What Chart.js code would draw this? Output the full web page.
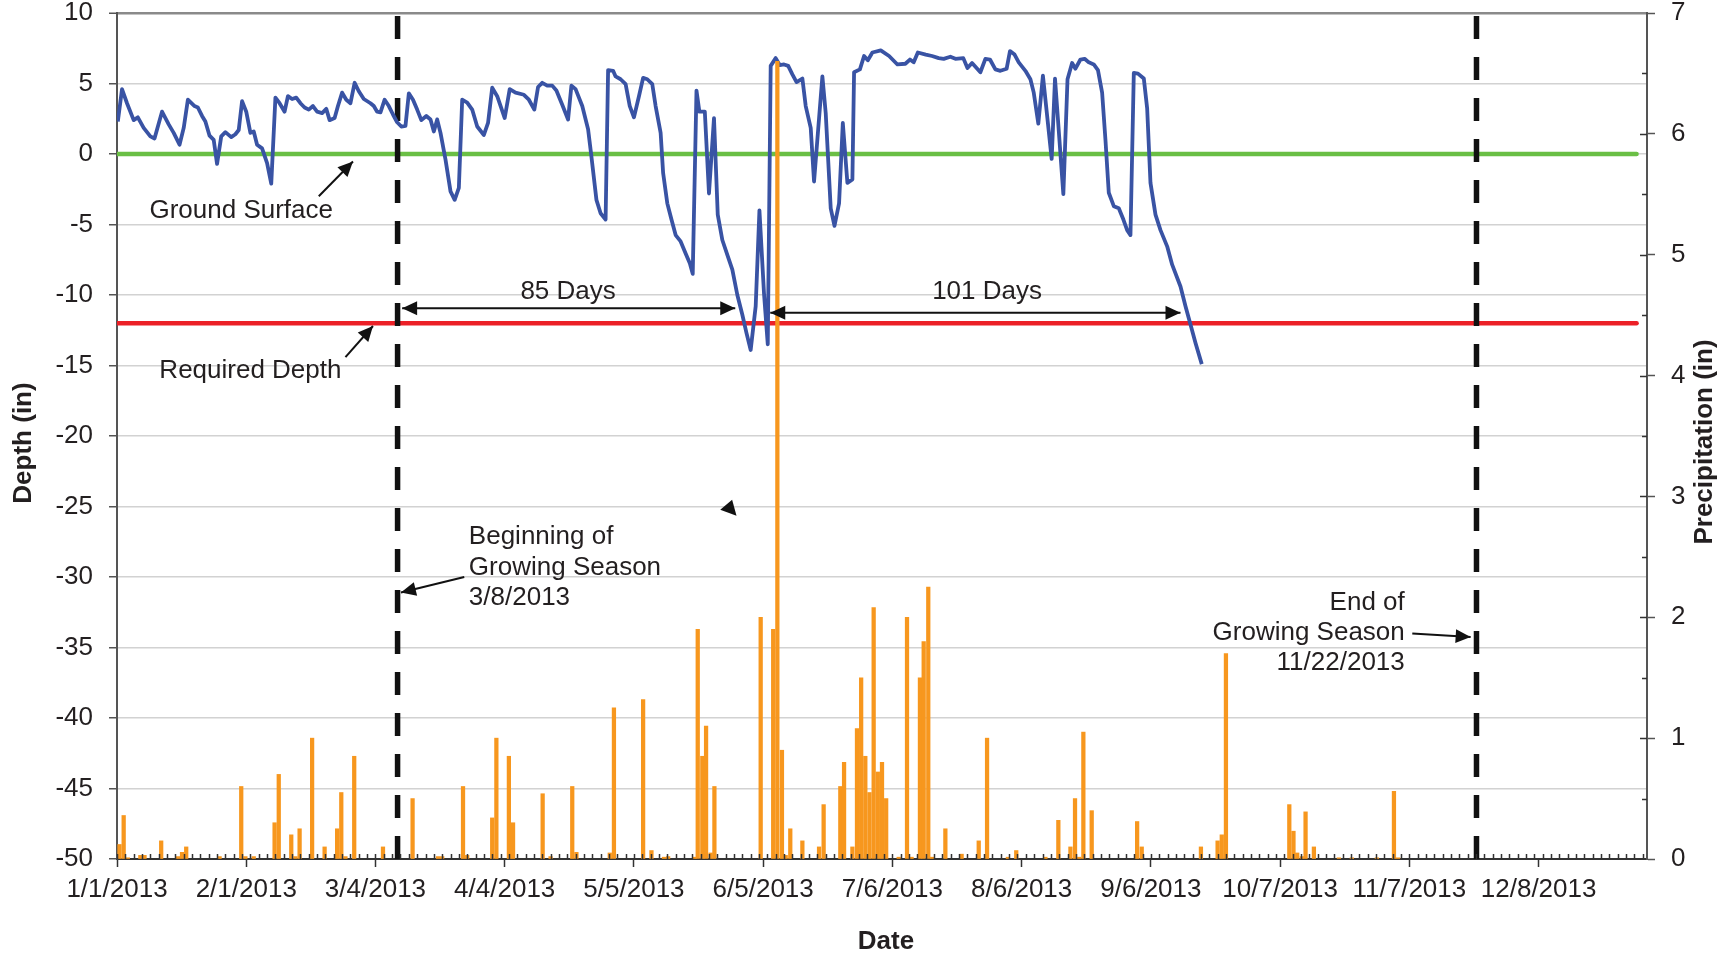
<!DOCTYPE html>
<html>
<head>
<meta charset="utf-8">
<script src="https://cdn.jsdelivr.net/npm/chart.js@4.4.0/dist/chart.umd.min.js"></script>
<style>
  html, body { margin: 0; padding: 0; background: #fff; }
</style>
</head>
<body>
<canvas id="mycanvas" width="1727" height="956"></canvas>
<script>
// x values are days counted from 1/1/2013 (= day 0)
var depthDays = [
  0.2, 1.2, 2.4, 4, 5, 6.4, 8, 9, 10.8, 12.4,
  13.6, 15, 16, 17, 18.6, 19.4, 20.4, 21.2, 22.2, 23.2,
  24, 25, 26, 27.4, 28.4, 29.2, 30, 31, 32, 32.8,
  33.6, 34.8, 36, 37, 38, 39, 40.2, 41, 42, 43,
  44, 45, 46, 47, 48, 49.2, 50.2, 51, 52.2, 53,
  54, 55, 56, 57, 58, 59.2, 60.8, 61.6, 62.4, 63.2,
  64.2, 65.2, 66.2, 67.2, 68.2, 69.2, 70, 71, 72, 73,
  74.2, 75.2, 76, 76.8, 77.6, 78.8, 80, 81, 82, 82.8,
  84, 85.2, 86.4, 88, 89, 90, 91.2, 93, 94.2, 95.6,
  97.6, 98.8, 100.1, 101, 102, 103.2, 104.4, 105.4, 106.8, 108.2,
  109, 110, 111.6, 113, 113.7, 115, 116, 117.2, 117.8, 119,
  119.6, 120.8, 122, 123, 124, 125.2, 126.2, 127.2, 128.4, 129.2,
  130.4, 131, 132, 133, 134, 135.2, 136.4, 137.4, 138.1, 139,
  139.7, 141, 142, 143.2, 144.1, 145.2, 146.4, 147.6, 148.8, 150,
  151, 152, 153.2, 154.1, 155.2, 156.1, 156.8, 158, 159, 160,
  161, 162, 163, 164.4, 165.2, 166.4, 167.2, 169.2, 170, 171.2,
  172.1, 173.2, 174.1, 175.2, 176.4, 176.8, 178.2, 179.2, 180.1, 181.2,
  183.2, 185.2, 187.2, 189.1, 190.2, 191.1, 192.1, 194, 195.5, 197.1,
  198.3, 199.9, 201.1, 203, 204, 205.1, 207.1, 208.3, 209.4, 210.7,
  211.9, 213.4, 214.2, 215.3, 216.3, 217.9, 219.1, 219.9, 221, 222.1,
  224.2, 225, 227, 228, 229.1, 229.9, 231.1, 232.1, 233.1, 234.3,
  235.3, 236.3, 237.1, 237.9, 239.1, 240.3, 241.4, 242.3, 243.1, 243.9,
  244.9, 246.3, 247.1, 247.9, 249.1, 250.3, 251.9, 253.1, 255.1, 256.3,
  257.5, 258.7, 260.2
];
var depthValues = [
  2.3, 4.6, 3.6, 2.4, 2.6, 1.85, 1.25, 1.1, 3.0, 2.1,
  1.5, 0.66, 1.85, 3.85, 3.4, 3.3, 2.7, 2.3, 1.3, 1.0,
  -0.7, 1.25, 1.55, 1.2, 1.4, 1.7, 3.75, 3.0, 1.5, 1.6,
  0.66, 0.4, -0.65, -2.1, 4.0, 3.6, 3.0, 4.1, 3.9, 4.0,
  3.6, 3.3, 3.15, 3.4, 3.0, 2.9, 3.2, 2.4, 2.55, 3.4,
  4.35, 3.85, 3.6, 5.05, 4.45, 3.9, 3.6, 3.4, 3.0, 2.95,
  3.85, 3.4, 2.8, 2.25, 1.95, 2.0, 4.3, 3.85, 3.15, 2.4,
  2.7, 2.45, 1.6, 2.45, 1.5, -0.4, -2.65, -3.25, -2.4, 3.85,
  3.65, 3.15, 1.95, 1.35, 2.2, 4.7, 4.1, 2.55, 4.6, 4.35,
  4.2, 3.85, 3.15, 4.75, 5.05, 4.85, 4.85, 4.5, 3.5, 2.45,
  4.85, 4.6, 3.4, 1.75, 0.07, -3.25, -4.2, -4.65, 5.95, 5.9,
  5.5, 5.3, 4.95, 3.4, 2.6, 4.1, 5.4, 5.3, 4.95, 3.4,
  1.5, -1.35, -3.5, -4.65, -5.75, -6.2, -7.05, -7.75, -8.5, 4.5,
  3.0, 3.0, -2.8, 2.55, -4.3, -6.1, -7.15, -8.2, -10, -11.4,
  -12.7, -13.9, -10.8, -4.0, -9.9, -13.5, 6.25, 6.8, 6.3, 6.35,
  6.25, 5.65, 5.1, 5.35, 3.4, 1.85, -1.95, 5.5, 2.9, -3.85,
  -5.1, -3.5, 2.2, -2.05, -1.8, 5.8, 6.0, 6.95, 6.65, 7.2,
  7.35, 6.95, 6.35, 6.4, 6.7, 6.5, 7.2, 7.05, 6.95, 6.8,
  6.75, 6.9, 6.75, 6.8, 6.1, 6.45, 5.8, 6.75, 6.7, 6.0,
  5.9, 6.05, 7.3, 7.05, 6.5, 5.9, 5.3, 4.35, 2.15, 5.55,
  -0.35, 5.35, -2.85, 5.3, 6.45, 6.05, 6.7, 6.75, 6.5, 6.35,
  5.95, 4.35, 1.0, -2.75, -3.7, -3.85, -4.65, -5.4, -5.75, 5.75,
  5.7, 5.35, 3.25, -2.05, -4.3, -5.4, -6.55, -7.85, -9.4, -10.8,
  -12.1, -13.4, -14.9
];

var rainDays = [
  0.6, 1.6, 2.6, 5.6, 6.6, 10.6, 14.6, 15.6, 16.6, 24.6,
  29.8, 30.8, 32.8, 37.8, 38.8, 41.8, 42.8, 43.8, 46.8, 49.8,
  52.8, 53.8, 54.8, 56.9, 63.8, 70.9, 77, 78, 83, 84,
  90, 91, 94, 95, 102.1, 104, 109.2, 110.2, 118.2, 119.2,
  126.2, 128.2, 131.2, 132.2, 138.5, 139.3, 140.4, 141.3, 142.4, 143.3,
  154.4, 157.4, 158.4, 159.5, 160.4, 161.5, 164.4, 168.4, 169.5, 173.5,
  174.4, 176.4, 177.5, 178.5, 179.5, 180.5, 181.5, 182.5, 183.5, 184.5,
  187.5, 189.5, 190.6, 192.6, 193.5, 194.6, 195.5, 198.7, 202.6, 206.7,
  208.7, 213.7, 215.7, 222.7, 225.8, 228.7, 229.8, 230.8, 231.8, 233.8,
  244.7, 245.8, 260, 264, 265, 266, 281.2, 282.2, 283.1, 284.2,
  285.1, 287.1, 293.1, 296.2, 302.2, 306.3, 307.3
];
var rainValues = [
  0.12, 0.36, 0.01, 0.03, 0.03, 0.15, 0.02, 0.055, 0.1, 0.02,
  0.6, 0.02, 0.02, 0.3, 0.7, 0.2, 0.02, 0.25, 1.0, 0.1,
  0.25, 0.55, 0.02, 0.85, 0.1, 0.5, 0.02, 0.02, 0.6, 0.03,
  0.34, 1.0, 0.85, 0.3, 0.54, 0.02, 0.6, 0.055, 0.05, 1.25,
  1.32, 0.07, 0.015, 0.02, 0.015, 1.9, 0.85, 1.1, 0.05, 0.6,
  2.0, 1.9, 6.6, 0.9, 0.03, 0.25, 0.15, 0.1, 0.45, 0.6,
  0.8, 0.1, 1.08, 1.5, 0.85, 0.55, 2.08, 0.72, 0.8, 0.5,
  0.015, 2.0, 0.015, 1.5, 1.8, 2.25, 0.015, 0.25, 0.04, 0.15,
  1.0, 0.015, 0.07, 0.015, 0.32, 0.1, 0.5, 0.015, 1.05, 0.4,
  0.31, 0.1, 0.1, 0.15, 0.2, 1.7, 0.45, 0.23, 0.05, 0.02,
  0.39, 0.1, 0.01, 0.01, 0.01, 0.56, 0.01
];

var groundLevel = 0;
var requiredDepth = -12;
var refLineDays = [0, 364.5];
var seasonDays = [67.3, 326.1];   // 3/8/2013 and 11/22/2013 markers
var depthRange = [-50, 10];
var rainRange = [0, 7];
var dayStep = 31;
var lastDay = 367;

var FONT = "'Liberation Sans', Arial, sans-serif";
var TEXT = '#231f20';

// annotations: positions in data units (day, depth)
var notes = [
  { lines: ['Ground Surface'], day: 29.8, depth: -4.0, align: 'center' },
  { lines: ['Required Depth'], day: 32.0, depth: -15.4, align: 'center' },
  { lines: ['85 Days'], day: 108.2, depth: -9.75, align: 'center' },
  { lines: ['101 Days'], day: 208.7, depth: -9.75, align: 'center' },
  { lines: ['Beginning of', 'Growing Season', '3/8/2013'], day: 84.4, depth: -27.17, align: 'left' },
  { lines: ['End of', 'Growing Season', '11/22/2013'], day: 308.9, depth: -31.8, align: 'right' }
];
var arrows = [
  { from: [48.4, -3.0], to: [56.6, -0.53] },
  { from: [54.8, -14.4], to: [61.4, -12.2] },
  { from: [83.3, -30.0], to: [68.1, -31.1] },
  { from: [310.7, -34.0], to: [324.7, -34.26] },
  { from: [68.4, -10.94], to: [148.3, -10.94], both: true },
  { from: [156.7, -11.26], to: [255.1, -11.26], both: true }
];
var strayHead = [[144.7, -25.23], [147.55, -24.52], [148.6, -25.66]];

function dayLabel(v) {
  var d = new Date(2013, 0, 1 + v);
  return (d.getMonth() + 1) + '/' + d.getDate() + '/' + d.getFullYear();
}

function head(ctx, x0, y0, x1, y1) {
  var a = Math.atan2(y1 - y0, x1 - x0), len = 15, half = 7;
  ctx.beginPath();
  ctx.moveTo(x1, y1);
  ctx.lineTo(x1 - len * Math.cos(a) + half * Math.sin(a), y1 - len * Math.sin(a) - half * Math.cos(a));
  ctx.lineTo(x1 - len * Math.cos(a) - half * Math.sin(a), y1 - len * Math.sin(a) + half * Math.cos(a));
  ctx.closePath();
  ctx.fill();
}

var extras = {
  id: 'extras',
  afterDraw: function(chart) {
    var ctx = chart.ctx, area = chart.chartArea;
    var xs = chart.scales.x, ys = chart.scales.y, rs = chart.scales.y2;
    ctx.save();

    // minor ticks on the date axis (inside)
    ctx.strokeStyle = '#333';
    ctx.lineWidth = 1.5;
    ctx.beginPath();
    for (var d = 0; d <= lastDay; d += 2) {
      var px = Math.round(xs.getPixelForValue(d)) + 0.5;
      ctx.moveTo(px, area.bottom);
      ctx.lineTo(px, area.bottom - 5);
    }
    // inner ticks on the precipitation axis
    for (var v = 0.5; v < rainRange[1]; v += 0.5) {
      var py = Math.round(rs.getPixelForValue(v)) + 0.5;
      ctx.moveTo(area.right, py);
      ctx.lineTo(area.right - (v % 1 === 0 ? 7 : 5), py);
    }
    ctx.stroke();

    // text notes
    ctx.fillStyle = TEXT;
    ctx.font = '26px ' + FONT;
    ctx.textBaseline = 'middle';
    notes.forEach(function(n) {
      ctx.textAlign = n.align;
      n.lines.forEach(function(t, i) {
        ctx.fillText(t, xs.getPixelForValue(n.day), ys.getPixelForValue(n.depth - i * 2.16));
      });
    });

    // arrows
    ctx.strokeStyle = '#111';
    ctx.fillStyle = '#111';
    ctx.lineWidth = 2;
    arrows.forEach(function(a) {
      var x0 = xs.getPixelForValue(a.from[0]), y0 = ys.getPixelForValue(a.from[1]);
      var x1 = xs.getPixelForValue(a.to[0]), y1 = ys.getPixelForValue(a.to[1]);
      ctx.beginPath();
      ctx.moveTo(x0, y0);
      ctx.lineTo(x1, y1);
      ctx.stroke();
      head(ctx, x0, y0, x1, y1);
      if (a.both) head(ctx, x1, y1, x0, y0);
    });
    ctx.beginPath();
    strayHead.forEach(function(p, i) {
      var px = xs.getPixelForValue(p[0]), py = ys.getPixelForValue(p[1]);
      if (i === 0) ctx.moveTo(px, py); else ctx.lineTo(px, py);
    });
    ctx.closePath();
    ctx.fill();

    // axis titles
    ctx.fillStyle = TEXT;
    ctx.font = 'bold 26px ' + FONT;
    ctx.textAlign = 'center';
    ctx.fillText('Date', (area.left + area.right) / 2 + 4, area.bottom + 83);
    ctx.save();
    ctx.translate(area.left - 93, (area.top + area.bottom) / 2 + 7);
    ctx.rotate(-Math.PI / 2);
    ctx.fillText('Depth (in)', 0, 0);
    ctx.restore();
    ctx.save();
    ctx.translate(area.right + 58, (area.top + area.bottom) / 2 + 6);
    ctx.rotate(-Math.PI / 2);
    ctx.fillText('Precipitation (in)', 0, 0);
    ctx.restore();

    ctx.restore();
  }
};

function pts(days, vals) {
  return days.map(function(d, i) { return { x: d, y: vals[i] }; });
}

// keep the vertical axes from reserving extra room above the plot
function fitSide(width) {
  return function(s) {
    s.width = width;
    s.paddingTop = 13;
    s.paddingBottom = 0;
  };
}

var ctx = document.getElementById('mycanvas');

var chart = new Chart(ctx, {
  type: 'line',
  data: {
    datasets: [
      {
        type: 'bar',
        label: 'Precipitation',
        data: pts(rainDays, rainValues),
        yAxisID: 'y2',
        backgroundColor: '#f7971e',
        borderWidth: 0,
        barThickness: 3.6
      },
      {
        label: 'Depth',
        data: pts(depthDays, depthValues),
        yAxisID: 'y',
        borderColor: '#3953a4',
        borderWidth: 3.8,
        borderJoinStyle: 'round',
        pointRadius: 0,
        tension: 0,
        fill: false
      },
      {
        label: 'Beginning of Growing Season',
        data: [{ x: seasonDays[0], y: depthRange[0] }, { x: seasonDays[0], y: depthRange[1] }],
        yAxisID: 'y',
        borderColor: '#111',
        borderWidth: 5.5,
        borderDash: [23, 18],
        borderCapStyle: 'butt',
        pointRadius: 0,
        fill: false
      },
      {
        label: 'End of Growing Season',
        data: [{ x: seasonDays[1], y: depthRange[0] }, { x: seasonDays[1], y: depthRange[1] }],
        yAxisID: 'y',
        borderColor: '#111',
        borderWidth: 5.5,
        borderDash: [23, 18],
        borderCapStyle: 'butt',
        pointRadius: 0,
        fill: false
      },
      {
        label: 'Ground Surface',
        data: refLineDays.map(function(d) { return { x: d, y: groundLevel }; }),
        yAxisID: 'y',
        borderColor: '#6abf45',
        borderWidth: 4.5,
        borderCapStyle: 'round',
        pointRadius: 0,
        fill: false
      },
      {
        label: 'Required Depth',
        data: refLineDays.map(function(d) { return { x: d, y: requiredDepth }; }),
        yAxisID: 'y',
        borderColor: '#ec2027',
        borderWidth: 4.5,
        borderCapStyle: 'round',
        pointRadius: 0,
        fill: false
      }
    ]
  },
  options: {
    responsive: false,
    animation: false,
    devicePixelRatio: 1,
    layout: { padding: 0 },
    plugins: { legend: { display: false }, tooltip: { enabled: false } },
    scales: {
      x: {
        type: 'linear',
        min: 0,
        max: lastDay,
        offset: false,
        afterBuildTicks: function(s) {
          s.ticks = s.ticks.filter(function(t) { return Math.abs(t.value / dayStep - Math.round(t.value / dayStep)) < 1e-6; });
        },
        afterFit: function(s) { s.height = 97; },
        ticks: {
          stepSize: dayStep,
          maxTicksLimit: 50,
          autoSkip: false,
          maxRotation: 0,
          minRotation: 0,
          padding: 10,
          color: TEXT,
          font: { family: FONT, size: 26, lineHeight: 1 },
          callback: function(v) { return dayLabel(v); }
        },
        grid: { drawOnChartArea: false, offset: false, tickLength: 8, tickColor: '#333', tickWidth: 1.5 },
        border: { color: '#333', width: 2 }
      },
      y: {
        position: 'left',
        min: depthRange[0],
        max: depthRange[1],
        afterFit: fitSide(117),
        ticks: {
          stepSize: 5,
          padding: 16,
          color: TEXT,
          font: { family: FONT, size: 26, lineHeight: 1 }
        },
        grid: {
          color: function(c) { return c.tick && c.tick.value === depthRange[1] ? '#8a8a8a' : '#d2d2d2'; },
          lineWidth: function(c) { return c.tick && c.tick.value === depthRange[1] ? 2.5 : 1.5; },
          tickLength: 8,
          tickColor: '#555',
          tickWidth: 1.5
        },
        border: { color: '#555', width: 2 }
      },
      y2: {
        position: 'right',
        min: rainRange[0],
        max: rainRange[1],
        afterFit: fitSide(80),
        ticks: {
          stepSize: 1,
          padding: 16,
          color: TEXT,
          font: { family: FONT, size: 26, lineHeight: 1 }
        },
        grid: { drawOnChartArea: false, tickLength: 8, tickColor: '#555', tickWidth: 1.5 },
        border: { color: '#555', width: 2 }
      }
    }
  },
  plugins: [extras]
});
</script>
</body>
</html>
